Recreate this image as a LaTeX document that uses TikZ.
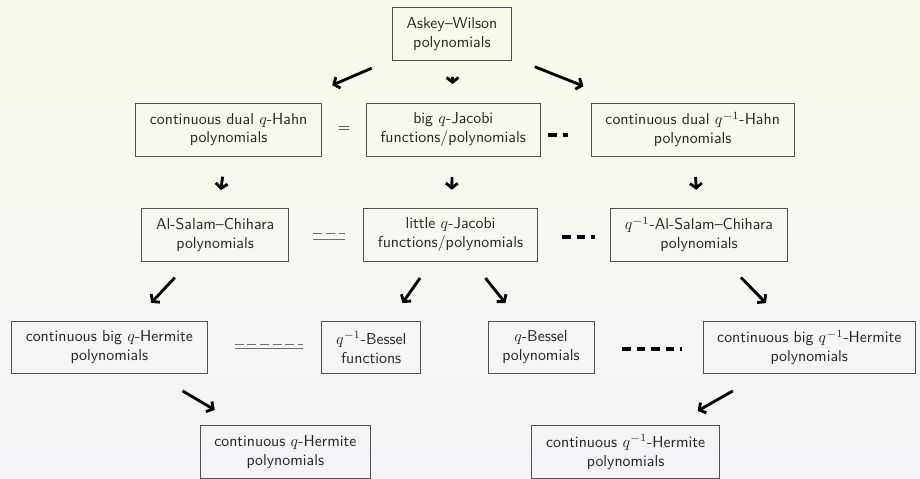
\documentclass[tikz,border=0pt]{standalone}
\usepackage{tikz}
\usetikzlibrary{arrows.meta}
\definecolor{bgtop}{RGB}{250,250,234}
\definecolor{bgbottom}{RGB}{243,243,248}
\definecolor{boxline}{RGB}{80,80,80}
\definecolor{eqline}{RGB}{110,110,110}

\begin{document}
\begin{tikzpicture}[
    font=\sffamily,
    family/.style={draw=boxline, line width=0.6pt, align=center, inner xsep=9pt, minimum height=33.5pt, text=black!85},
    limit/.style={-{Straight Barb[length=3pt,width=7.5pt]}, line width=1.8pt},
    bolddash/.style={line width=2.4pt, dash pattern=on 5.5pt off 3.7pt},
    halfdash/.style={eqline, line width=0.6pt, dash pattern=on 5.6pt off 2.4pt},
    halfsolid/.style={eqline, line width=0.6pt}
]
    \useasboundingbox (0,0) rectangle (20.44,10.62);
    \fill[top color=bgtop, bottom color=bgbottom] (0,0) rectangle (20.44,10.62);

    % the families
    \node[family] (aw) at (10.04,9.87) {Askey--Wilson\\polynomials};
    \node[family] (cdqh) at (5.08,7.74) {continuous dual $q$-Hahn\\polynomials};
    \node[family] (bqj) at (10.07,7.74) {big $q$-Jacobi\\functions/polynomials};
    \node[family] (cdqih) at (15.39,7.74) {continuous dual $q^{-1}$-Hahn\\polynomials};
    \node[family] (asc) at (4.78,5.41) {Al-Salam--Chihara\\polynomials};
    \node[family] (lqj) at (10.01,5.41) {little $q$-Jacobi\\functions/polynomials};
    \node[family] (qiasc) at (15.53,5.41) {$q^{-1}$-Al-Salam--Chihara\\polynomials};
    \node[family] (cbqh) at (2.43,2.90) {continuous big $q$-Hermite\\polynomials};
    \node[family] (qib) at (8.25,2.90) {$q^{-1}$-Bessel\\functions};
    \node[family] (qb) at (12.02,2.90) {$q$-Bessel\\polynomials};
    \node[family] (cbqih) at (17.98,2.90) {continuous big $q^{-1}$-Hermite\\polynomials};
    \node[family] (cqh) at (6.34,0.58) {continuous $q$-Hermite\\polynomials};
    \node[family] (cqih) at (13.90,0.58) {continuous $q^{-1}$-Hermite\\polynomials};

    % limits
    \draw[limit, shorten <=55.2pt, shorten >=71.2pt] (aw.center) -- (cdqh.center);
    \draw[limit, shorten <=27.2pt, shorten >=28.8pt] (aw.center) -- (bqj.center);
    \draw[limit, shorten <=56.4pt, shorten >=74.3pt] (aw.center) -- (cdqih.center);
    \draw[limit, shorten <=30pt, shorten >=28.3pt] (cdqh.center) -- (asc.center);
    \draw[limit, shorten <=30pt, shorten >=28.3pt] (bqj.center) -- (lqj.center);
    \draw[limit, shorten <=30pt, shorten >=28.3pt] (cdqih.center) -- (qiasc.center);
    \draw[limit, shorten <=37.3pt, shorten >=38.6pt] (asc.center) -- (cbqh.center);
    \draw[limit, shorten <=33.6pt, shorten >=34.3pt] (lqj.center) -- (qib.center);
    \draw[limit, shorten <=35.3pt, shorten >=36pt] (lqj.center) -- (qb.center);
    \draw[limit, shorten <=37.9pt, shorten >=39.2pt] (qiasc.center) -- (cbqih.center);
    \draw[limit, shorten <=53.8pt, shorten >=52pt] (cbqh.center) -- (cqh.center);
    \draw[limit, shorten <=55.6pt, shorten >=52.4pt] (cbqih.center) -- (cqih.center);

    % same family, other parameters
    \path (cdqh.center) -- node[pos=0.514] {$=$} (bqj.center);
    \draw[bolddash, shorten <=60pt, shorten >=79pt] ([yshift=-3.5pt]bqj.center) -- ([yshift=-3.5pt]cdqih.center);
    \draw[halfdash, shorten <=62pt, shorten >=66.7pt] ([yshift=0.8pt]asc.center) -- ([yshift=0.8pt]lqj.center);
    \draw[halfsolid, shorten <=62pt, shorten >=66.7pt] ([yshift=-3pt]asc.center) -- ([yshift=-3pt]lqj.center);
    \draw[bolddash, shorten <=70.5pt, shorten >=65.7pt] ([yshift=-1.6pt]lqj.center) -- ([yshift=-1.6pt]qiasc.center);
    \draw[halfdash, shorten <=79.3pt, shorten >=43.1pt] ([yshift=2.2pt]cbqh.center) -- ([yshift=2.2pt]qib.center);
    \draw[halfsolid, shorten <=79.3pt, shorten >=43.1pt] ([yshift=-0.8pt]cbqh.center) -- ([yshift=-0.8pt]qib.center);
    \draw[bolddash, shorten <=51.2pt, shorten >=80.3pt] ([yshift=-1pt]qb.center) -- ([yshift=-1pt]cbqih.center);
\end{tikzpicture}
\end{document}
